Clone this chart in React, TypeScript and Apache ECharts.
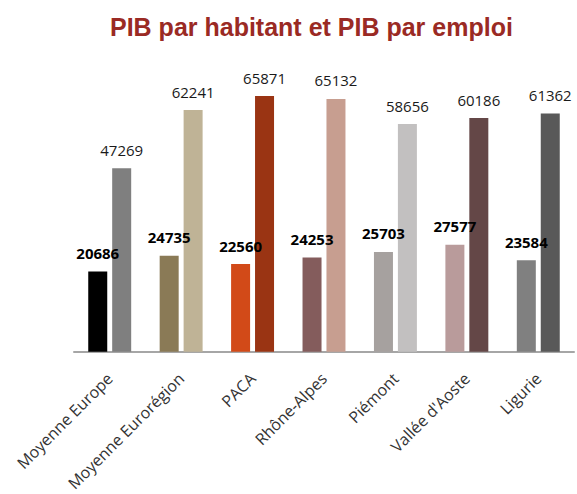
import React, { useEffect, useRef } from "react";
import * as echarts from "echarts";

const categories = [
  "Moyenne Europe",
  "Moyenne Eurorégion",
  "PACA",
  "Rhône-Alpes",
  "Piémont",
  "Vallée d'Aoste",
  "Ligurie",
];
const pibHabitant = [20686, 24735, 22560, 24253, 25703, 27577, 23584];
const pibEmploi = [47269, 62241, 65871, 65132, 58656, 60186, 61362];
const colorsHabitant = ["#000000", "#8A7A56", "#D24A18", "#845C5C", "#A6A19F", "#B99B9B", "#808080"];
const colorsEmploi = ["#7F7F7F", "#BFB396", "#9A3413", "#C79E90", "#C2C0C0", "#644747", "#595959"];

export default function App() {
  const ref = useRef<HTMLDivElement>(null);
  useEffect(() => {
    if (!ref.current) return;
    const chart = echarts.init(ref.current, undefined, { renderer: "svg" });
    const labelFont = "'Open Sans', sans-serif";
    chart.setOption({
      animation: false,
      backgroundColor: "#ffffff",
      title: {
        text: "PIB par habitant et PIB par emploi",
        left: 105,
        top: 9,
        textStyle: {
          color: "#9A2A24",
          fontSize: 25,
          fontWeight: "bold",
          fontFamily: "'Liberation Sans', Arial, sans-serif",
        },
      },
      grid: { left: 74, right: 3, top: 80, bottom: 142, containLabel: false },
      xAxis: {
        type: "category",
        data: categories,
        axisLine: { show: true, lineStyle: { color: "#A6A6A6", width: 2 } },
        axisTick: { show: false },
        axisLabel: {
          rotate: 45,
          interval: 0,
          margin: 24,
          color: "#333333",
          fontSize: 16,
          fontFamily: labelFont,
        },
      },
      yAxis: {
        type: "value",
        min: 0,
        max: 70000,
        show: false,
        splitLine: { show: false },
      },
      series: [
        {
          name: "PIB par habitant",
          type: "bar",
          barWidth: 19,
          barGap: "26%",
          data: pibHabitant.map((v, i) => ({ value: v, itemStyle: { color: colorsHabitant[i] } })),
          label: {
            show: true,
            position: "top",
            distance: 11,
            color: "#000000",
            fontWeight: "bold",
            fontSize: 15,
            fontFamily: labelFont,
          },
        },
        {
          name: "PIB par emploi",
          type: "bar",
          barWidth: 19,
          data: pibEmploi.map((v, i) => ({ value: v, itemStyle: { color: colorsEmploi[i] } })),
          label: {
            show: true,
            position: "top",
            distance: 11,
            color: "#1a1a1a",
            fontSize: 15,
            fontFamily: labelFont,
          },
        },
      ],
    });
    return () => chart.dispose();
  }, []);
  return <div ref={ref} style={{ width: 577, height: 494, position: "absolute", left: 0, top: 0 }} />;
}
